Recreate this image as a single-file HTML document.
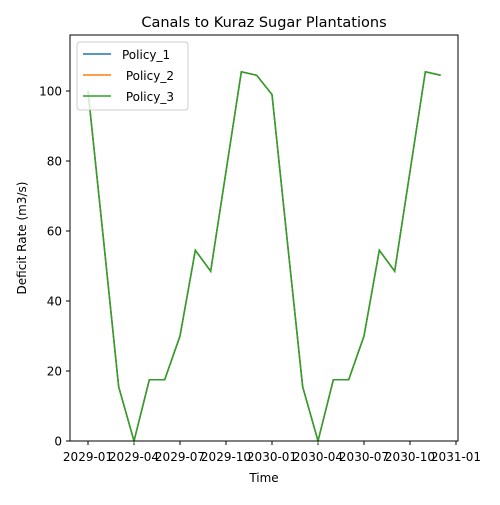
<!DOCTYPE html>
<html><head><meta charset="utf-8">
<style>
body{margin:0;background:#fff;font-family:"Liberation Sans","DejaVu Sans",sans-serif;}
svg text{font-family:"DejaVu Sans","Liberation Sans",sans-serif;}
</style></head>
<body>
<svg id="chart" width="500" height="500" viewBox="0 0 500 500">
<rect width="500" height="500" fill="#fff"/>
<text x="264" y="27" text-anchor="middle" font-size="14.5">Canals to Kuraz Sugar Plantations</text>
<g id="plot"></g>
<rect x="70" y="35" width="388" height="406" fill="none" stroke="#000" stroke-width="1"/>
<text x="264" y="482" text-anchor="middle" font-size="12">Time</text>
<text transform="translate(26,238) rotate(-90)" text-anchor="middle" font-size="12">Deficit Rate (m3/s)</text>
<g>
<rect x="77" y="42" width="111" height="68" rx="3" fill="#fff" fill-opacity="0.8" stroke="#ccc"/>
<line x1="83" y1="54" x2="111" y2="54" stroke="#1f77b4" stroke-width="1.5"/>
<text x="122" y="59" font-size="12">Policy_1</text>
<line x1="83" y1="75" x2="111" y2="75" stroke="#ff7f0e" stroke-width="1.5"/>
<text x="122" y="80" font-size="12" xml:space="preserve"> Policy_2</text>
<line x1="83" y1="96" x2="111" y2="96" stroke="#2ca02c" stroke-width="1.5"/>
<text x="122" y="101" font-size="12" xml:space="preserve"> Policy_3</text>
</g>
</svg>
<script>
const months = [0,1,2,3,4,5,6,7,8,9,10,11,12,13,14,15,16,17,18,19,20,21,22,23];
const policy1 = [100,58,15.5,0,17.5,17.5,30,54.5,48.5,77,105.5,104.5,99,57,15.5,0,17.5,17.5,30,54.5,48.5,77,105.5,104.5];
const policy2 = [100,58,15.5,0,17.5,17.5,30,54.5,48.5,77,105.5,104.5,99,57,15.5,0,17.5,17.5,30,54.5,48.5,77,105.5,104.5];
const policy3 = [100,58,15.5,0,17.5,17.5,30,54.5,48.5,77,105.5,104.5,99,57,15.5,0,17.5,17.5,30,54.5,48.5,77,105.5,104.5];
const xTickMonths = [0,3,6,9,12,15,18,21,24];
const xTickLabels = ["2029-01","2029-04","2029-07","2029-10","2030-01","2030-04","2030-07","2030-10","2031-01"];
const yTicks = [0,20,40,60,80,100];

const NS = "http://www.w3.org/2000/svg";
const xs = m => 88 + m * (368/24);
const ys = v => 441 - v * 3.5;
const g = document.getElementById('plot');

xTickMonths.forEach((m,i)=>{
  const t = document.createElementNS(NS,'line');
  t.setAttribute('x1',xs(m));t.setAttribute('x2',xs(m));t.setAttribute('y1',441);t.setAttribute('y2',445);t.setAttribute('stroke','#000');
  
  
  g.appendChild(t);
  const l = document.createElementNS(NS,'text');
  l.setAttribute('x',xs(m));l.setAttribute('y',461);l.setAttribute('text-anchor','middle');l.setAttribute('font-size','12');
  l.textContent = xTickLabels[i];
  
  
  g.appendChild(l);
});
yTicks.forEach(v=>{
  const t = document.createElementNS(NS,'line');
  t.setAttribute('x1',66);t.setAttribute('x2',70);t.setAttribute('y1',ys(v));t.setAttribute('y2',ys(v));t.setAttribute('stroke','#000');
  
  
  g.appendChild(t);
  const l = document.createElementNS(NS,'text');
  l.setAttribute('x',62);l.setAttribute('y',ys(v)+4.5);l.setAttribute('text-anchor','end');l.setAttribute('font-size','12');
  l.textContent = v;
  
  
  g.appendChild(l);
});
function series(vals,color,name){
  const p = document.createElementNS(NS,'polyline');
  p.setAttribute('points', vals.map((v,i)=>xs(months[i])+','+ys(v)).join(' '));
  p.setAttribute('fill','none');p.setAttribute('stroke',color);p.setAttribute('stroke-width','1.5');
  
  
  g.appendChild(p);
}
series(policy1,'#1f77b4','line-policy-1');
series(policy2,'#ff7f0e','line-policy-2');
series(policy3,'#2ca02c','line-policy-3');
</script>
</body></html>
